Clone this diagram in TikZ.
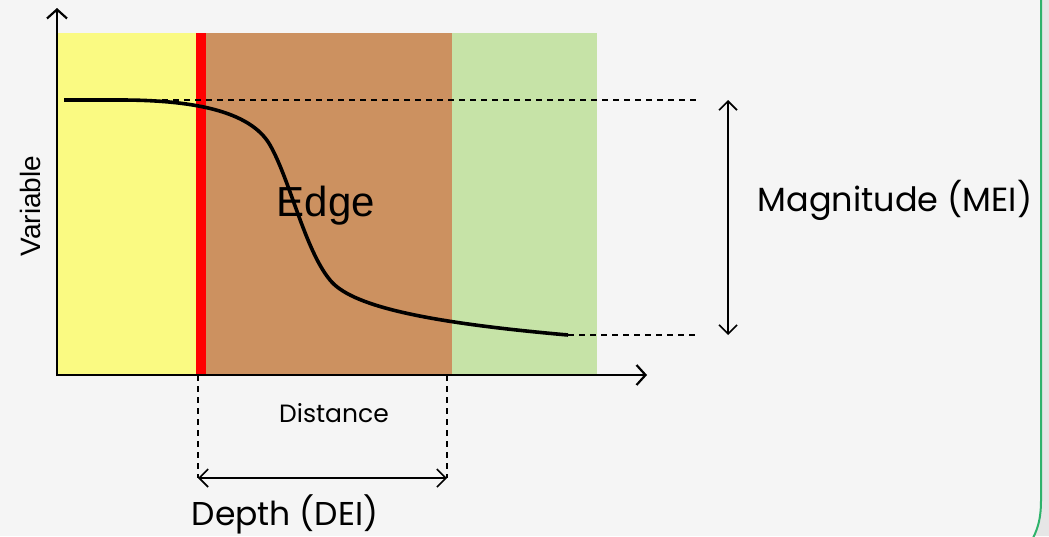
\documentclass[tikz,border=0pt]{standalone}
\usepackage{fontspec}
\setmainfont{Liberation Sans}
\newfontfamily\gothic{Poppins}
\usetikzlibrary{arrows.meta}
\definecolor{bg}{HTML}{F5F5F5}
\definecolor{side}{HTML}{E6E6E6}
\definecolor{frame}{HTML}{2EB36B}
\definecolor{zyellow}{HTML}{FAFA82}
\definecolor{zbrown}{HTML}{CC9160}
\definecolor{zgreen}{HTML}{C6E3A7}
\definecolor{zred}{HTML}{FF0000}
\tikzset{
  axis/.style={line width=2.2pt, -{Straight Barb[length=9pt,width=20pt,line width=2.2pt]}},
  guide/.style={line width=1.3pt, dash pattern=on 6pt off 5pt},
  dim/.style={line width=1.6pt, {Straight Barb[length=9pt,width=18pt,line width=1.6pt]}-{Straight Barb[length=9pt,width=18pt,line width=1.6pt]}},
  curve/.style={line width=3.6pt},
  lbl/.style={inner sep=0pt, text=black},
}
\begin{document}
\begin{tikzpicture}[x=1pt,y=-1pt]
\useasboundingbox (0,0) rectangle (1049,536);
\fill[bg] (0,0) rectangle (1049,536);
\fill[side] (1041,0) -- (1049,0) -- (1049,536) -- (1034,536) .. controls (1038,528) and (1041,518) .. (1041,500) -- cycle;
\draw[frame, line width=2pt] (1041,-2) -- (1041,500) .. controls (1041,518) and (1038,528) .. (1033,538);
% zones
\fill[zyellow] (57,33) rectangle (197,375);
\fill[zbrown] (206,33) rectangle (452,375);
\fill[zgreen] (452,33) rectangle (597,375);
\fill[zred] (196,33) rectangle (206,375);
% coordinates
\coordinate (o) at (57,375);
\coordinate (ytip) at (57,8);
\coordinate (xtip) at (647,375);
\coordinate (c0) at (64,100);
\coordinate (cend) at (568,335);
\coordinate (t1) at (162,100);
\coordinate (t2) at (698,100);
\coordinate (b2) at (698,335);
\coordinate (m1) at (728,100);
\coordinate (m2) at (728,335);
\coordinate (d1a) at (198,375);
\coordinate (d1b) at (198,478);
\coordinate (d2a) at (447,375);
\coordinate (d2b) at (447,478);
% guides
\draw[guide] (t1) -- (t2);
\draw[guide] (cend) -- (b2);
\draw[guide] (d1a) -- (d1b);
\draw[guide] (d2a) -- (d2b);
% curve
\draw[curve] (c0) -- (120,100) .. controls (190,100) and (250,110) .. (270,145)
  .. controls (290,180) and (305,250) .. (330,280)
  .. controls (350,305) and (420,322) .. (cend);
% axes
\draw[axis] (57,376) -- (ytip);
\draw[axis] (56,375) -- (xtip);
% dimension arrows
\draw[dim] (m1) -- (m2);
\draw[dim] (d1b) -- (d2b);
% labels
\node[lbl, font=\fontsize{42}{46}\selectfont] (edge) at (326,206) {Edge};
\node[lbl, font=\fontsize{28}{32}\selectfont, rotate=90] (var) at (30,206) {Variable};
\node[lbl, font=\gothic\fontsize{25}{29}\selectfont] (dist) at (334,413) {Distance};
\node[lbl, font=\gothic\fontsize{33.5}{38}\selectfont] (mag) at (895,200) {Magnitude (MEI)};
\node[lbl, font=\gothic\fontsize{33}{37}\selectfont] (dep) at (285,514) {Depth (DEI)};
\end{tikzpicture}
\end{document}
